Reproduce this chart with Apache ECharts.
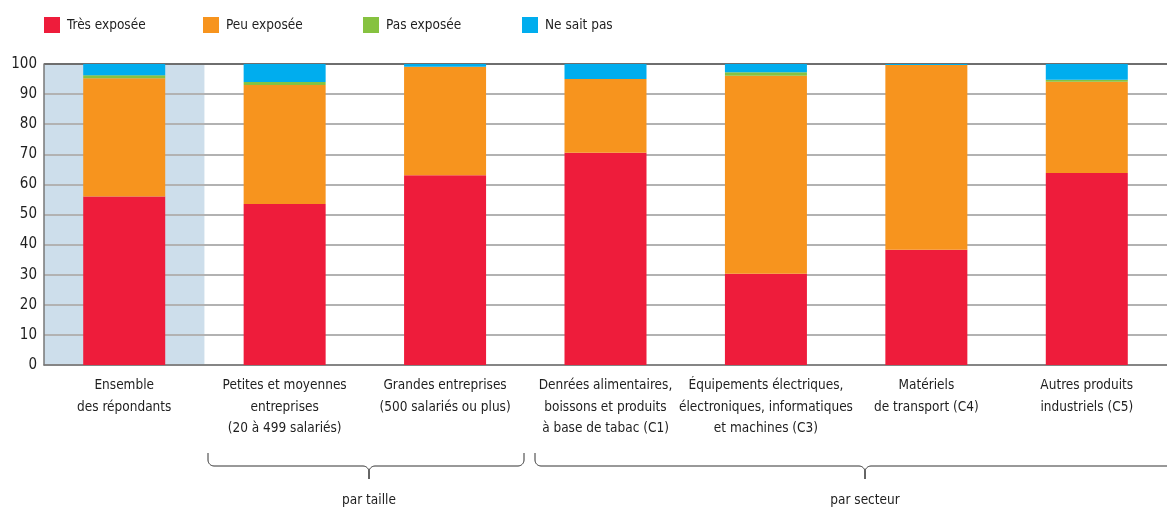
<!DOCTYPE html>
<html>
<head>
<meta charset="utf-8">
<script src="https://cdn.jsdelivr.net/npm/echarts@6/dist/echarts.min.js"></script>
<style>
  html, body { margin: 0; padding: 0; background: #fff; }
  #main { width: 1167px; height: 509px; }
</style>
</head>
<body>
<div id="main"></div>
<script>
// catégories (axe x)
var categories = [
  'Ensemble\ndes répondants',
  'Petites et moyennes\nentreprises\n(20 à 499 salariés)',
  'Grandes entreprises\n(500 salariés ou plus)',
  'Denrées alimentaires,\nboissons et produits\nà base de tabac (C1)',
  'Équipements électriques,\nélectroniques, informatiques\net machines (C3)',
  'Matériels\nde transport (C4)',
  'Autres produits\nindustriels (C5)'
];
// valeurs en %
var tresExposee = [56, 53.5, 63, 70.5, 30.3, 38.3, 63.8];
var peuExposee  = [39.3, 39.5, 36.1, 24.5, 65.8, 61.4, 30.3];
var pasExposee  = [1, 1, 0, 0, 1.2, 0, 0.7];
var neSaitPas   = [3.7, 6, 0.9, 5, 2.7, 0.3, 5.2];
// fond du groupe "Ensemble"
var fondEnsemble = [100, '-', '-', '-', '-', '-', '-'];
var yTicks = [0, 10, 20, 30, 40, 50, 60, 70, 80, 90, 100];
var legendNames = ['Très exposée', 'Peu exposée', 'Pas exposée', 'Ne sait pas'];
var legendLeft = [44, 203, 363, 522];

var font = "'DejaVu Sans Condensed', sans-serif";
var chart = echarts.init(document.getElementById('main'));

function serie(name, data, color) {
  return {
    name: name,
    type: 'bar',
    stack: 'total',
    barWidth: 82,
    data: data,
    itemStyle: { color: color },
    emphasis: { disabled: true }
  };
}

// quart de cercle (points)
function arc(cx, cy, r, a0, a1) {
  var pts = [];
  for (var i = 0; i <= 8; i++) {
    var a = a0 + (a1 - a0) * i / 8;
    pts.push([cx + r * Math.cos(a), cy + r * Math.sin(a)]);
  }
  return pts;
}

// accolades sous l'axe
function accolade(x1, x2, c) {
  var y0 = 453, y1 = 466, y2 = 479, r = 6;
  var P = Math.PI;
  var left = [[x1, y0]].concat(arc(x1 + r, y1 - r, r, P, P / 2))
    .concat(arc(c - r, y1 + r, r, -P / 2, 0)).concat([[c, y2]]);
  var right = [[x2, y0]].concat(arc(x2 - r, y1 - r, r, 0, P / 2))
    .concat(arc(c + r, y1 + r, r, -P / 2, -P)).concat([[c, y2]]);
  var st = { fill: null, stroke: '#333', lineWidth: 1 };
  return [
    { type: 'polyline', shape: { points: left }, style: st },
    { type: 'polyline', shape: { points: right }, style: st }
  ];
}

var option = {
  animation: false,
  textStyle: { fontFamily: font },
  legend: legendNames.map(function (n, i) {
    return {
      left: legendLeft[i],
      top: 17,
      padding: 0,
      itemWidth: 16,
      itemHeight: 16,
      icon: 'rect',
      selectedMode: false,
      textStyle: { fontFamily: font, fontSize: 13.5, color: '#1e1e1e', padding: [0, 0, 0, 2] },
      data: [n]
    };
  }),
  grid: { left: 44, top: 64, right: -11, bottom: 144, containLabel: false },
  xAxis: [
    {
      type: 'category',
      data: categories,
      axisTick: { show: false },
      axisLine: { lineStyle: { color: '#777', width: 1.5 } },
      axisLabel: {
        interval: 0,
        margin: 10,
        fontFamily: font,
        fontSize: 13.5,
        lineHeight: 21.5,
        color: '#1e1e1e'
      }
    },
    {
      type: 'category',
      data: categories,
      show: false
    }
  ],
  yAxis: {
    type: 'value',
    min: 0,
    max: 100,
    interval: 10,
    axisLine: { show: true, lineStyle: { color: '#777', width: 1.5 } },
    axisTick: { show: false },
    axisLabel: { margin: 7, fontFamily: font, fontSize: 15, color: '#1e1e1e' },
    splitLine: {
      lineStyle: {
        color: yTicks.map(function (t) { return t === 100 ? '#6e6e6e' : '#b2b2b2'; }),
        width: 2
      }
    }
  },
  series: [
    {
      type: 'bar',
      xAxisIndex: 1,
      barWidth: '100%',
      data: fondEnsemble,
      itemStyle: { color: '#cddeeb' },
      z: -1,
      silent: true
    },
    serie('Très exposée', tresExposee, '#ee1c3b'),
    serie('Peu exposée', peuExposee, '#f7941e'),
    serie('Pas exposée', pasExposee, '#86c240'),
    serie('Ne sait pas', neSaitPas, '#00adee')
  ],
  graphic: accolade(208, 524, 369).concat(accolade(535, 1195, 865)).concat([
    { type: 'text', x: 369, y: 500, style: { text: 'par taille', font: '13.5px ' + font, fill: '#1e1e1e', align: 'center', verticalAlign: 'middle' } },
    { type: 'text', x: 865, y: 500, style: { text: 'par secteur', font: '13.5px ' + font, fill: '#1e1e1e', align: 'center', verticalAlign: 'middle' } }
  ])
};

chart.setOption(option);
</script>
</body>
</html>
